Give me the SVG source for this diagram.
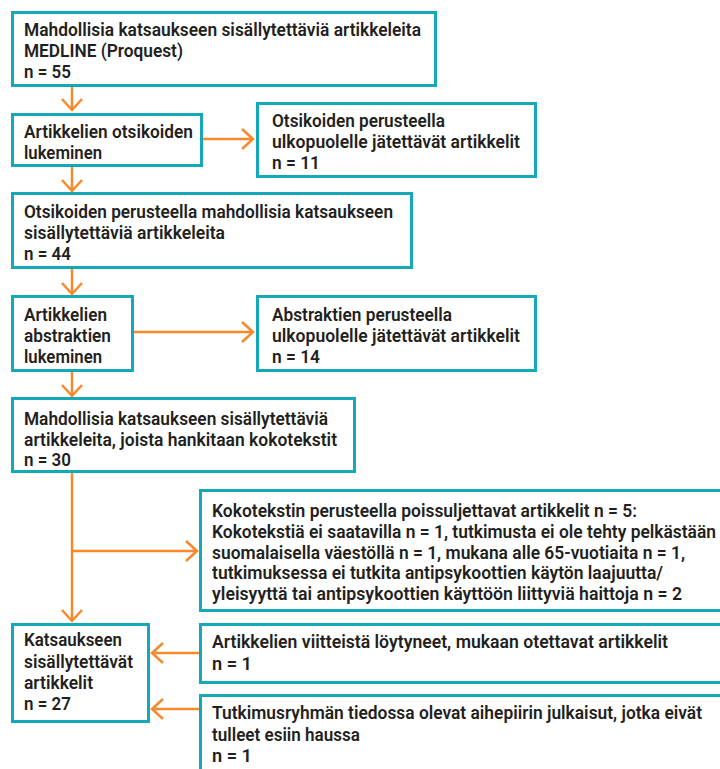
<svg xmlns="http://www.w3.org/2000/svg" width="720" height="769" viewBox="0 0 720 769">
<style>
.box{fill:#fff;stroke:#13a9b9;stroke-width:3}
.t{font-family:"Roboto","Liberation Sans",sans-serif;font-size:18px;font-weight:600;fill:#231f20}
.c{fill:none;stroke:#f7892a;stroke-width:2.5;stroke-linecap:butt;stroke-linejoin:miter}
</style>
<rect width="720" height="769" fill="#fff"/>
<g id="connectors">
<path class="c" d="M72 87V110M62 99L72 110L82 99"/>
<path class="c" d="M72 167V191M62 180L72 191L82 180"/>
<path class="c" d="M72 269V294M62 283L72 294L82 283"/>
<path class="c" d="M72 372V396M62 385L72 396L82 385"/>
<path class="c" d="M72 473V621M62 610L72 621L82 610"/>
<path class="c" d="M72 551H197M186 541L197 551L186 561"/>
<path class="c" d="M202 139H253M242 129L253 139L242 149"/>
<path class="c" d="M133 332H253M242 322L253 332L242 342"/>
<path class="c" d="M199 653H152M163 643L152 653L163 663"/>
<path class="c" d="M199 709H152M163 699L152 709L163 719"/>
</g>
<g id="n1"><rect class="box" x="12.5" y="12.5" width="423" height="73"/>
<text class="t" x="24" y="36" textLength="397" lengthAdjust="spacingAndGlyphs">Mahdollisia katsaukseen sisällytettäviä artikkeleita</text>
<text class="t" x="24" y="57" textLength="159" lengthAdjust="spacingAndGlyphs">MEDLINE (Proquest)</text>
<text class="t" x="24" y="78" textLength="47" lengthAdjust="spacingAndGlyphs">n = 55</text></g>
<g id="n2"><rect class="box" x="12.5" y="114.5" width="189" height="51"/>
<text class="t" x="24" y="138" textLength="169" lengthAdjust="spacingAndGlyphs">Artikkelien otsikoiden</text>
<text class="t" x="24" y="158.5" textLength="78" lengthAdjust="spacingAndGlyphs">lukeminen</text></g>
<g id="n3"><rect class="box" x="257.5" y="103.5" width="278" height="73"/>
<text class="t" x="272" y="127" textLength="173" lengthAdjust="spacingAndGlyphs">Otsikoiden perusteella</text>
<text class="t" x="272" y="147.5" textLength="248" lengthAdjust="spacingAndGlyphs">ulkopuolelle jätettävät artikkelit</text>
<text class="t" x="272" y="169" textLength="48" lengthAdjust="spacingAndGlyphs">n = 11</text></g>
<g id="n4"><rect class="box" x="12.5" y="193.5" width="399" height="74"/>
<text class="t" x="24" y="218" textLength="369" lengthAdjust="spacingAndGlyphs">Otsikoiden perusteella mahdollisia katsaukseen</text>
<text class="t" x="24" y="239" textLength="201" lengthAdjust="spacingAndGlyphs">sisällytettäviä artikkeleita</text>
<text class="t" x="24" y="260" textLength="47" lengthAdjust="spacingAndGlyphs">n = 44</text></g>
<g id="n5"><rect class="box" x="12.5" y="296.5" width="120" height="74"/>
<text class="t" x="24" y="321" textLength="83" lengthAdjust="spacingAndGlyphs">Artikkelien</text>
<text class="t" x="24" y="342" textLength="87" lengthAdjust="spacingAndGlyphs">abstraktien</text>
<text class="t" x="24" y="362.5" textLength="78" lengthAdjust="spacingAndGlyphs">lukeminen</text></g>
<g id="n6"><rect class="box" x="257.5" y="296.5" width="278" height="74"/>
<text class="t" x="272" y="321" textLength="180" lengthAdjust="spacingAndGlyphs">Abstraktien perusteella</text>
<text class="t" x="272" y="342" textLength="248" lengthAdjust="spacingAndGlyphs">ulkopuolelle jätettävät artikkelit</text>
<text class="t" x="272" y="362.5" textLength="48" lengthAdjust="spacingAndGlyphs">n = 14</text></g>
<g id="n7"><rect class="box" x="12.5" y="398.5" width="342" height="73"/>
<text class="t" x="24" y="425" textLength="304" lengthAdjust="spacingAndGlyphs">Mahdollisia katsaukseen sisällytettäviä</text>
<text class="t" x="24" y="445.5" textLength="313" lengthAdjust="spacingAndGlyphs">artikkeleita, joista hankitaan kokotekstit</text>
<text class="t" x="24" y="466" textLength="47" lengthAdjust="spacingAndGlyphs">n = 30</text></g>
<g id="n8"><rect class="box" x="200.5" y="490.5" width="530" height="120"/>
<text class="t" x="212" y="517" textLength="425" lengthAdjust="spacingAndGlyphs">Kokotekstin perusteella poissuljettavat artikkelit n = 5:</text>
<text class="t" x="212" y="538" textLength="504" lengthAdjust="spacingAndGlyphs">Kokotekstiä ei saatavilla n = 1, tutkimusta ei ole tehty pelkästään</text>
<text class="t" x="212" y="558.5" textLength="473" lengthAdjust="spacingAndGlyphs">suomalaisella väestöllä n = 1, mukana alle 65-vuotiaita n = 1,</text>
<text class="t" x="212" y="579" textLength="451" lengthAdjust="spacingAndGlyphs">tutkimuksessa ei tutkita antipsykoottien käytön laajuutta/</text>
<text class="t" x="212" y="600" textLength="470" lengthAdjust="spacingAndGlyphs">yleisyyttä tai antipsykoottien käyttöön liittyviä haittoja n = 2</text></g>
<g id="n9"><rect class="box" x="12.5" y="624.5" width="136" height="97"/>
<text class="t" x="24" y="646" textLength="98" lengthAdjust="spacingAndGlyphs">Katsaukseen</text>
<text class="t" x="24" y="667.5" textLength="109" lengthAdjust="spacingAndGlyphs">sisällytettävät</text>
<text class="t" x="24" y="689" textLength="69" lengthAdjust="spacingAndGlyphs">artikkelit</text>
<text class="t" x="24" y="710" textLength="47" lengthAdjust="spacingAndGlyphs">n = 27</text></g>
<g id="n10"><rect class="box" x="200.5" y="624.5" width="530" height="58"/>
<text class="t" x="212" y="648" textLength="456" lengthAdjust="spacingAndGlyphs">Artikkelien viitteistä löytyneet, mukaan otettavat artikkelit</text>
<text class="t" x="212" y="669.5" textLength="40" lengthAdjust="spacingAndGlyphs">n = 1</text></g>
<g id="n11"><rect class="box" x="200.5" y="695.5" width="530" height="90"/>
<text class="t" x="212" y="719" textLength="490" lengthAdjust="spacingAndGlyphs">Tutkimusryhmän tiedossa olevat aihepiirin julkaisut, jotka eivät</text>
<text class="t" x="212" y="740.5" textLength="148" lengthAdjust="spacingAndGlyphs">tulleet esiin haussa</text>
<text class="t" x="212" y="762" textLength="40" lengthAdjust="spacingAndGlyphs">n = 1</text></g>
</svg>
